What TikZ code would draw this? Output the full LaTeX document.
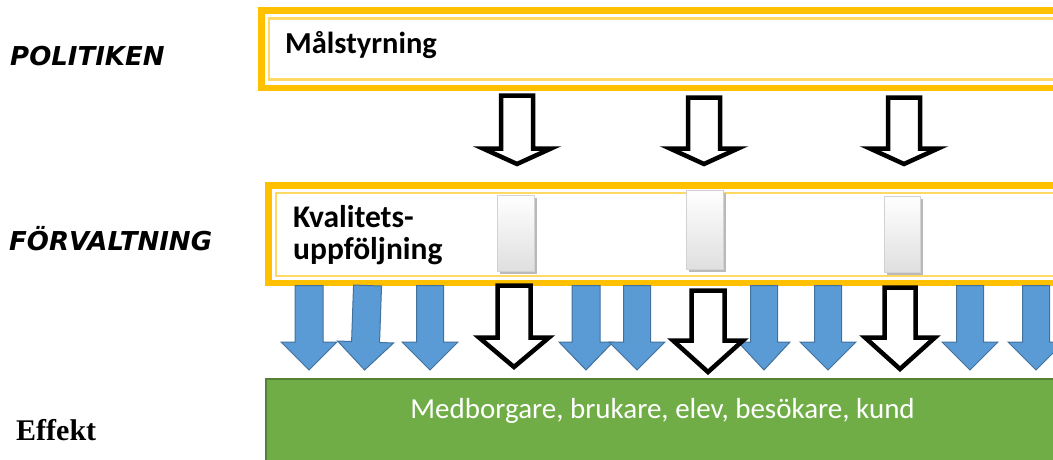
\documentclass[tikz,border=0pt]{standalone}
\usepackage{fontspec}
\newfontfamily\carl{Carlito}
\newfontfamily\labfont{DejaVu Sans}
\newfontfamily\serfont{Liberation Serif}
\definecolor{ygold}{HTML}{FFC000}
\definecolor{ylight}{HTML}{FFD966}
\definecolor{gfill}{HTML}{70AD47}
\definecolor{gedge}{HTML}{548235}
\definecolor{bfill}{HTML}{5B9BD5}
\definecolor{bedge}{HTML}{41719C}
\tikzset{
  outerband/.style={draw=ygold, line width=6.5pt},
  innerline/.style={draw=ylight, line width=2.5pt},
  hollowarrow/.style={draw=black, fill=white, line width=4.5pt, line join=miter},
  bluearrow/.style={draw=bedge, fill=bfill, line width=1pt, line join=miter},
  rowlabel/.style={anchor=base west, inner sep=0pt, font=\labfont\bfseries\itshape\fontsize{26}{26}\selectfont},
  boxtext/.style={anchor=base west, inner sep=0pt, font=\carl\bfseries\fontsize{31.5}{31.5}\selectfont},
  btn/.style={draw=gray!35, line width=1pt, top color=white, bottom color=gray!25},
  btnshadow/.style={fill=gray!55, draw=none},
}
% #1 style, #2 cx, #3 top, #4 shaft half, #5 head half, #6 head y, #7 tip y
\newcommand{\downblock}[7]{%
  \path[#1] (#2-#4,#3) -- (#2+#4,#3) -- (#2+#4,#6) -- (#2+#5,#6) -- (#2,#7)
    -- (#2-#5,#6) -- (#2-#4,#6) -- cycle;}
\newcommand{\gbutton}[4]{%
  \path[btnshadow] (#1+3,#2+3) rectangle (#3+3,#4+3);
  \path[btn] (#1,#2) rectangle (#3,#4);}
\begin{document}
\begin{tikzpicture}[x=1pt,y=-1pt]
\useasboundingbox (0,0) rectangle (1053,459);
\clip (0,0) rectangle (1053,459);

% labels
\node[rowlabel] (pol) at (10,65) {POLITIKEN};
\node[rowlabel] (forv) at (9,250) {FÖRVALTNING};
\node[anchor=base west, inner sep=0pt, font=\serfont\bfseries\fontsize{30}{30}\selectfont] (eff) at (16,440) {Effekt};

% top box
\path[outerband] (261.25,10.25) rectangle (1080,87.75);
\path[innerline] (269,18.5) rectangle (1080,79.5);
\node[boxtext, font=\carl\bfseries\fontsize{30.5}{30.5}\selectfont] (mal) at (285,53) {Målstyrning};

% top hollow arrows
\downblock{hollowarrow}{517}{95.5}{16}{34}{148.5}{164}
\downblock{hollowarrow}{704}{97.5}{16}{34}{148.5}{164}
\downblock{hollowarrow}{904}{97.5}{16}{34}{148.5}{164}

% middle box
\path[outerband] (268.25,185.25) rectangle (1080,283);
\path[innerline] (276,193) rectangle (1080,276);
\node[boxtext] (kv1) at (293,227) {Kvalitets-};
\node[boxtext] (kv2) at (293,259) {uppföljning};

% gray buttons
\gbutton{497}{195}{534}{271}
\gbutton{686}{190}{723}{269}
\gbutton{884}{196}{920}{272}

% green box
\path[fill=gfill, draw=gedge, line width=1.5pt] (265.75,378.75) rectangle (1080,480);
\node[anchor=base, inner sep=0pt, text=white, font=\carl\fontsize{29}{29}\selectfont] (med) at (662.5,418) {Medborgare, brukare, elev, besökare, kund};

% blue arrows
\downblock{bluearrow}{309}{285.5}{14}{28}{342}{370}
\begin{scope}[rotate around={-2:(366,330)}]
\downblock{bluearrow}{366}{285.5}{14}{28}{342}{370}
\end{scope}
\downblock{bluearrow}{430}{285.5}{13.5}{28}{342}{370}
\downblock{bluearrow}{586}{285.5}{14}{27}{342}{370}
\downblock{bluearrow}{637}{285.5}{13.5}{28}{342}{370}
\downblock{bluearrow}{764}{285.5}{13.5}{26}{342}{370}
\downblock{bluearrow}{828}{285.5}{13.5}{28}{342}{370}
\downblock{bluearrow}{970}{285.5}{13.5}{28}{342}{370}
\downblock{bluearrow}{1036}{285.5}{13.5}{28}{342}{370}

% bottom hollow arrows
\downblock{hollowarrow}{514}{285.5}{16.5}{35}{337.5}{367}
\downblock{hollowarrow}{708}{290.5}{16.5}{35}{340.5}{372}
\downblock{hollowarrow}{900}{287.5}{15.5}{35}{337.5}{369}
\end{tikzpicture}
\end{document}
